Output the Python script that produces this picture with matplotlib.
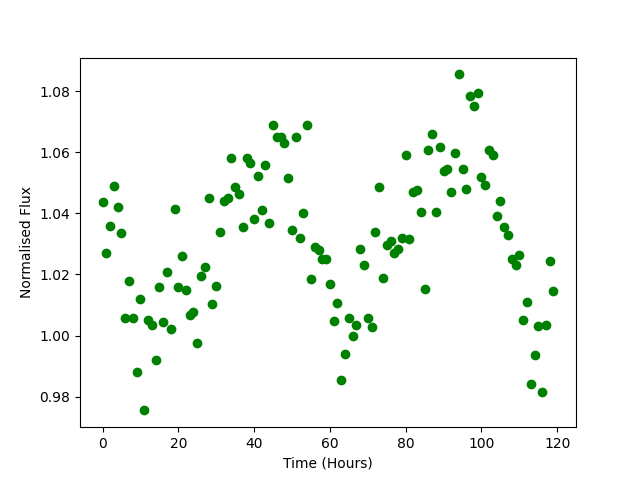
import numpy as np
import matplotlib
matplotlib.use('Agg')
import matplotlib.pyplot as plt

# hourly samples, 0..119
time_hours = np.arange(120)

flux = [
    1.0436, 1.0270, 1.0360, 1.0490, 1.0420, 1.0335, 1.0057, 1.0180, 1.0057, 0.9880,
    1.0120, 0.9755, 1.0050, 1.0035, 0.9920, 1.0160, 1.0045, 1.0207, 1.0023, 1.0415,
    1.0158, 1.0260, 1.0150, 1.0067, 1.0077, 0.9975, 1.0195, 1.0223, 1.0450, 1.0103,
    1.0162, 1.0340, 1.0440, 1.0450, 1.0580, 1.0485, 1.0463, 1.0355, 1.0580, 1.0565,
    1.0380, 1.0522, 1.0410, 1.0560, 1.0370, 1.0690, 1.0650, 1.0650, 1.0630, 1.0515,
    1.0345, 1.0650, 1.0320, 1.0400, 1.0690, 1.0185, 1.0290, 1.0280, 1.0250, 1.0250,
    1.0170, 1.0047, 1.0105, 0.9853, 0.9940, 1.0057, 1.0000, 1.0033, 1.0285, 1.0230,
    1.0057, 1.0027, 1.0340, 1.0485, 1.0188, 1.0295, 1.0310, 1.0270, 1.0283, 1.0320,
    1.0590, 1.0315, 1.0470, 1.0475, 1.0405, 1.0152, 1.0607, 1.0660, 1.0403, 1.0618,
    1.0540, 1.0545, 1.0470, 1.0597, 1.0855, 1.0545, 1.0480, 1.0785, 1.0750, 1.0795,
    1.0520, 1.0493, 1.0607, 1.0590, 1.0393, 1.0440, 1.0355, 1.0330, 1.0250, 1.0230,
    1.0265, 1.0050, 1.0110, 0.9840, 0.9935, 1.0030, 0.9815, 1.0035, 1.0243, 1.0145,
]

fig, ax = plt.subplots(figsize=(6.4, 4.8), dpi=100)
ax.plot(time_hours, flux, 'o', color='green')
ax.set_xlabel('Time (Hours)')
ax.set_ylabel('Normalised Flux')

plt.savefig('out.png')
